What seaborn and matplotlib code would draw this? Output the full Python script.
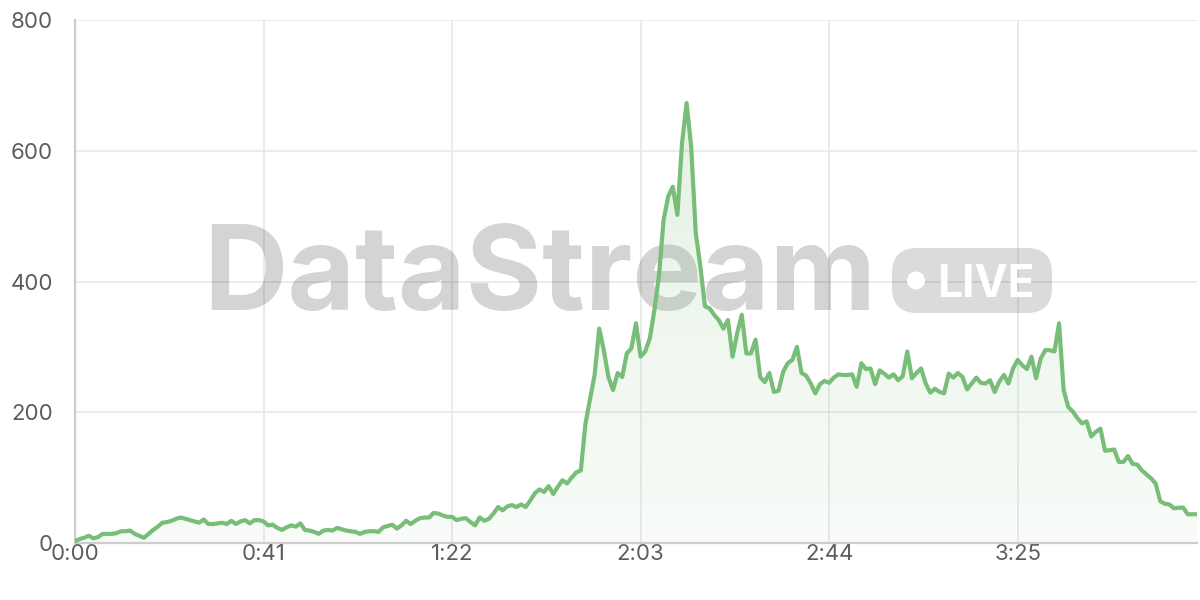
import numpy as np
import pandas as pd
import matplotlib
matplotlib.use("Agg")
import matplotlib.pyplot as plt
from matplotlib.patches import FancyBboxPatch, Circle
import seaborn as sns

# viewers per second over the stream
viewers = [
    3, 6, 8, 11, 7, 9, 14, 14, 14, 15,
    18, 18, 19, 14, 11, 8, 14, 20, 25, 31,
    32, 34, 37, 39, 37, 35, 33, 31, 36, 29,
    29, 30, 31, 29, 34, 29, 33, 35, 30, 35,
    35, 33, 27, 28, 23, 20, 24, 27, 25, 30,
    20, 19, 17, 14, 19, 20, 19, 23, 21, 19,
    18, 17, 14, 17, 18, 18, 17, 24, 26, 28,
    22, 27, 34, 29, 34, 38, 39, 39, 46, 45,
    42, 40, 40, 35, 37, 38, 32, 27, 39, 34,
    37, 45, 55, 50, 56, 58, 55, 59, 55, 65,
    76, 82, 78, 87, 75, 86, 96, 91, 100, 108,
    111, 182, 220, 257, 328, 295, 254, 234, 260, 254,
    290, 298, 336, 285, 293, 313, 356, 410, 494, 530,
    545, 502, 611, 673, 606, 474, 423, 362, 359, 349,
    341, 328, 341, 285, 321, 349, 290, 290, 311, 254,
    246, 260, 231, 233, 262, 275, 280, 300, 260, 256,
    244, 229, 243, 248, 245, 253, 258, 257, 257, 258,
    239, 275, 266, 267, 243, 264, 259, 253, 258, 249,
    255, 293, 252, 260, 267, 244, 230, 236, 231, 229,
    259, 253, 260, 254, 235, 244, 253, 245, 244, 249,
    231, 247, 257, 244, 267, 280, 272, 266, 285, 252,
    282, 295, 295, 293, 336, 234, 208, 201, 191, 183,
    186, 163, 170, 175, 141, 142, 143, 124, 124, 133,
    121, 120, 111, 105, 99, 91, 64, 60, 59, 53,
    54, 54, 44, 44, 44,
]
x_ticks = [0, 41, 82, 123, 164, 205]
x_labels = ["0:00", "0:41", "1:22", "2:03", "2:44", "3:25"]
y_ticks = [0, 200, 400, 600, 800]

df = pd.DataFrame({"sec": np.arange(len(viewers)), "viewers": viewers})

GREEN = "#78bd78"
GRID = "#e6e6e6"
AXIS = "#cdcdcd"
TEXT = "#5c5c5c"

sns.set_style("white")
plt.rcParams["font.family"] = ["Inter", "DejaVu Sans"]

fig = plt.figure(figsize=(12, 6), dpi=100)
ax = fig.add_axes([75 / 1200, 57 / 600, 1122 / 1200, 523 / 600])

# gradient fill under the line
poly = ax.fill_between(df["sec"], df["viewers"], 0, color="none", zorder=2)
top = df["viewers"].max()
grad = np.zeros((256, 1, 4))
grad[:, 0, :3] = matplotlib.colors.to_rgb(GREEN)
grad[:, 0, 3] = np.linspace(0.2, 0.05, 256)
im = ax.imshow(grad, extent=[0, df["sec"].max(), 0, top], aspect="auto",
               origin="upper", zorder=2)
im.set_clip_path(poly.get_paths()[0], transform=ax.transData)

sns.lineplot(data=df, x="sec", y="viewers", color=GREEN, linewidth=3,
             ax=ax, zorder=4)

ax.set_xlim(0, df["sec"].max())
ax.set_ylim(0, 800)
ax.set_xticks(x_ticks, x_labels)
ax.set_yticks(y_ticks)
ax.set_xlabel("")
ax.set_ylabel("")
ax.grid(True, color=GRID, linewidth=1.1, zorder=0)
ax.set_axisbelow(True)
for s in ["top", "right"]:
    ax.spines[s].set_visible(False)
for s in ["left", "bottom"]:
    ax.spines[s].set_color(AXIS)
    ax.spines[s].set_linewidth(1.6)
ax.tick_params(axis="y", length=12, width=1.1, color=GRID, pad=4,
               labelsize=16, labelcolor=TEXT)
ax.tick_params(axis="x", length=12, width=1.1, color=GRID, pad=-11,
               labelsize=16, labelcolor=TEXT)

# "DataStream  LIVE" watermark
tr = fig.dpi_scale_trans
ax.text(5.40, 2.90, "DataStream", transform=tr, ha="center", va="baseline",
        fontsize=84, fontweight="bold", color="black", alpha=0.17, zorder=1)
badge = FancyBboxPatch((8.92, 2.87), 1.60, 0.65,
                       boxstyle="round,pad=0,rounding_size=0.25",
                       transform=tr, facecolor="black", edgecolor="none",
                       alpha=0.14, zorder=1)
ax.add_patch(badge)
badge.set_clip_on(False)
dot = Circle((9.16, 3.195), 0.09, transform=tr, facecolor="white",
             edgecolor="none", zorder=1.5, clip_on=False)
ax.add_patch(dot)
ax.text(9.86, 3.03, "LIVE", transform=tr, ha="center", va="baseline",
        fontsize=32, fontweight="bold", color="white", zorder=1.5)

plt.savefig("out.png", dpi=100)
plt.close()
